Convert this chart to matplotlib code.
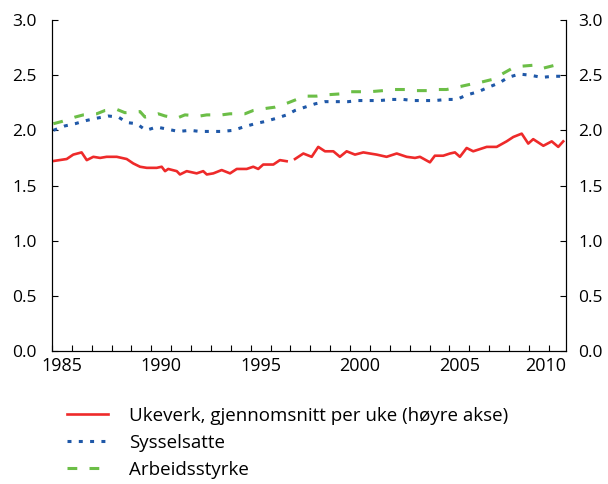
import matplotlib

matplotlib.use("Agg")
import matplotlib.pyplot as plt
import numpy as np

plt.rcParams["font.family"] = ["Open Sans", "DejaVu Sans"]

# Ukeverk, gjennomsnitt per uke (right axis), NaN = break in series
ukeverk_year = [1985.00, 1985.74, 1986.07, 1986.49, 1986.75, 1987.08, 1987.42, 1987.75, 1988.26, 1988.76,
                1989.09, 1989.43, 1989.77, 1990.27, 1990.52, 1990.69, 1990.85, 1991.28, 1991.44, 1991.78,
                1992.28, 1992.61, 1992.79, 1993.12, 1993.54, 1993.96, 1994.30, 1994.80, 1995.13, 1995.38,
                1995.63, 1996.14, 1996.47, 1996.81, 1997.02, 1997.23, 1997.65, 1998.07, 1998.40, 1998.74,
                1999.16, 1999.49, 1999.83, 2000.25, 2000.67, 2001.00, 2001.34, 2001.84, 2002.35, 2002.85,
                2003.27, 2003.52, 2004.02, 2004.27, 2004.69, 2005.03, 2005.28, 2005.53, 2005.87, 2006.20,
                2006.88, 2007.38, 2007.88, 2008.22, 2008.64, 2008.97, 2009.22, 2009.73, 2010.15, 2010.48,
                2010.73]
ukeverk = [1.72, 1.74, 1.78, 1.80, 1.73, 1.76, 1.75, 1.76, 1.76, 1.74,
           1.70, 1.67, 1.66, 1.66, 1.67, 1.63, 1.65, 1.63, 1.60, 1.63,
           1.61, 1.63, 1.60, 1.61, 1.64, 1.61, 1.65, 1.65, 1.67, 1.65,
           1.69, 1.69, 1.73, 1.72, np.nan, 1.74, 1.79, 1.76, 1.85, 1.81,
           1.81, 1.76, 1.81, 1.78, 1.80, 1.79, 1.78, 1.76, 1.79, 1.76,
           1.75, 1.76, 1.71, 1.77, 1.77, 1.79, 1.80, 1.76, 1.84, 1.81,
           1.85, 1.85, 1.90, 1.94, 1.97, 1.88, 1.92, 1.86, 1.90, 1.85,
           1.90]

syss_year = [1985.07, 1985.65, 1986.16, 1986.75, 1987.25, 1987.83, 1988.34, 1988.79, 1989.26, 1989.73,
             1990.27, 1990.82, 1991.36, 1991.95, 1992.45, 1992.95, 1993.54, 1994.12, 1994.63, 1995.22,
             1995.72, 1996.31, 1996.81, 1997.23, 1997.73, 1998.24, 1998.74, 1999.33, 1999.91, 2000.42,
             2001.00, 2001.51, 2002.10, 2002.68, 2003.18, 2003.77, 2004.28, 2004.86, 2005.37, 2005.87,
             2006.45, 2006.96, 2007.51, 2007.96, 2008.52, 2009.06, 2009.65, 2010.23, 2010.80]
sysselsatte = [2.00, 2.04, 2.06, 2.09, 2.11, 2.13, 2.12, 2.07, 2.06, 2.00,
               2.03, 2.01, 1.99, 2.00, 1.99, 1.99, 1.99, 2.00, 2.03, 2.06,
               2.08, 2.11, 2.14, 2.18, 2.21, 2.24, 2.26, 2.26, 2.26, 2.27,
               2.27, 2.27, 2.28, 2.28, 2.27, 2.27, 2.27, 2.28, 2.28, 2.32,
               2.35, 2.39, 2.43, 2.48, 2.51, 2.50, 2.48, 2.49, 2.49]

arb_year = [1985.07, 1985.49, 1986.16, 1986.58, 1987.25, 1987.67, 1988.26, 1988.67, 1989.43, 1989.68,
            1990.35, 1990.69, 1991.28, 1991.69, 1992.45, 1992.79, 1993.54, 1993.96, 1994.71, 1995.13,
            1995.81, 1996.22, 1996.89, 1997.31, 1997.82, 1998.32, 1998.65, 1999.49, 1999.83, 2000.67,
            2001.00, 2001.67, 2002.01, 2002.85, 2003.18, 2003.94, 2004.28, 2004.86, 2005.37, 2006.12,
            2006.45, 2007.13, 2007.55, 2008.14, 2008.55, 2009.22, 2009.65, 2010.31, 2010.80]
arbeidsstyrke = [2.06, 2.08, 2.12, 2.14, 2.15, 2.18, 2.19, 2.16, 2.17, 2.12,
                 2.15, 2.13, 2.11, 2.14, 2.13, 2.14, 2.14, 2.15, 2.15, 2.18,
                 2.20, 2.21, 2.25, 2.28, 2.31, 2.31, 2.32, 2.33, 2.35, 2.35,
                 2.35, 2.36, 2.37, 2.37, 2.36, 2.36, 2.37, 2.37, 2.39, 2.42,
                 2.43, 2.46, 2.50, 2.56, 2.58, 2.59, 2.56, 2.59, 2.59]

labels = ["Ukeverk, gjennomsnitt per uke (høyre akse)", "Sysselsatte", "Arbeidsstyrke"]
year_labels = ["1985", "1990", "1995", "2000", "2005", "2010"]
y_ticks = [0.0, 0.5, 1.0, 1.5, 2.0, 2.5, 3.0]

RED = "#ee2a2a"
BLUE = "#1f58a8"
GREEN = "#6cbe47"
XMAX = 2010.87


def main() -> int:
    fig = plt.figure(figsize=(6.08, 4.84), dpi=100)
    ax = fig.add_axes([52 / 608, 1 - 351 / 484, (566 - 52) / 608, (351 - 20) / 484])
    ax2 = ax.twinx()

    h2, = ax.plot(syss_year, sysselsatte, color=BLUE, lw=2.2, linestyle=(0, (1.3, 2.4)), label=labels[1])
    h3, = ax.plot(arb_year, arbeidsstyrke, color=GREEN, lw=2.2, linestyle=(0, (3.2, 4.0)), label=labels[2])
    h1, = ax2.plot(ukeverk_year, ukeverk, color=RED, lw=1.9, label=labels[0])

    for a in (ax, ax2):
        a.set_ylim(0, 3.0)
        a.set_xlim(1985, XMAX)
        a.spines["top"].set_visible(False)
        a.set_yticks(y_ticks)
        a.set_yticklabels([f"{v:.1f}" for v in y_ticks])
    ax.tick_params(axis="y", direction="in", length=4, labelsize=12.5, pad=11)
    ax2.tick_params(axis="y", direction="in", length=4, labelsize=12.5, pad=9)

    # year ticks at year boundaries, labels centred in the year (last one kept inside the axis)
    ax.set_xticks(np.arange(1985, 2011))
    ax.set_xticklabels([])
    ax.tick_params(axis="x", which="major", direction="in", length=4)
    label_pos = [int(y) + 0.5 for y in year_labels[:-1]] + [XMAX]
    ax.set_xticks(label_pos, year_labels, minor=True)
    ax.tick_params(axis="x", which="minor", length=0, labelsize=13, pad=4)
    ax.get_xticklabels(minor=True)[-1].set_horizontalalignment("right")

    fig.legend(handles=[h1, h2, h3], loc="upper left", bbox_to_anchor=(67 / 608, 1 - 407 / 484),
               frameon=False, fontsize=13.5, handlelength=2.2, handletextpad=1.1,
               labelspacing=0.48, borderpad=0, borderaxespad=0)

    fig.savefig("out.png", dpi=100)
    plt.close(fig)
    return 0


if __name__ == "__main__":
    raise SystemExit(main())
